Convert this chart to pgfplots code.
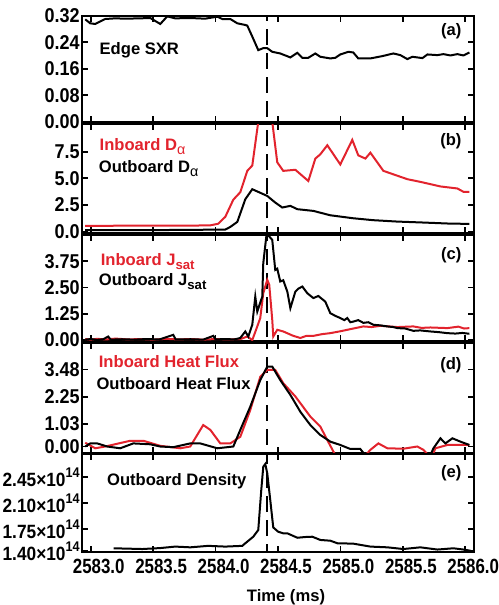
\documentclass[border=0pt]{standalone}
\usepackage{pgfplots}
\pgfplotsset{compat=1.18}
\usepackage{fontspec}
\setmainfont{Liberation Sans}
\newfontfamily\condA{Liberation Sans}[FakeStretch=0.9]
\newfontfamily\condB{Liberation Sans}[FakeStretch=0.82]
\definecolor{myred}{RGB}{226,35,45}
\pgfplotsset{
  panel/.style={
    scale only axis, width=196pt, anchor=north west,
    xmin=2582.93, xmax=2586.07,
    xtick={2583,2583.5,...,2586},
    xticklabels={},
    tick align=inside, major tick length=3pt, minor tick num=0,
    axis line style={line width=1pt},
    tick style={line width=0.9pt,black},
    every tick label/.append style={font=\condA\bfseries\fontsize{10}{11}\selectfont},
    yticklabel style={inner sep=1pt},
  },
  vline/.style={black, line width=1pt, dash pattern=on 8pt off 4pt, forget plot},
  blk/.style={black, line width=1pt, no marks},
  rd/.style={myred, line width=1pt, no marks},
}
\newcommand{\annfont}{\bfseries\fontsize{8.3}{9}\selectfont}
\newcommand{\subt}[1]{\raisebox{-0.4ex}{\fontsize{6.6}{7}\selectfont #1}}
\newcommand{\subg}[1]{\raisebox{-0.4ex}{\mdseries\fontsize{7.2}{7}\selectfont #1}}
\newcommand{\supr}[1]{\raisebox{0.9ex}{\fontsize{7}{7}\selectfont #1}}
\begin{document}
\begin{tikzpicture}
\useasboundingbox (0,0) rectangle (249pt,-302.5pt);
% ---------------- (a)
\begin{axis}[panel, at={(41pt,-7.85pt)}, height=53pt,
  ymin=0, ymax=0.32, ytick={0,0.08,0.16,0.24,0.32},
  yticklabels={0.00,0.08,0.16,0.24,0.32}]
\addplot[vline] coordinates {(2584.414,-1) (2584.414,1)};
\addplot[blk] coordinates {
(2582.956,0.309) (2582.996,0.297) (2583.036,0.295) (2583.116,0.310) (2583.196,0.312)
(2583.276,0.311) (2583.397,0.312) (2583.477,0.313) (2583.557,0.295) (2583.613,0.318)
(2583.677,0.312) (2583.797,0.313) (2583.917,0.311) (2584.014,0.317) (2584.054,0.310)
(2584.118,0.310) (2584.174,0.297) (2584.238,0.292) (2584.254,0.290) (2584.294,0.257)
(2584.342,0.216) (2584.382,0.222) (2584.414,0.222) (2584.454,0.211) (2584.518,0.206)
(2584.599,0.194) (2584.655,0.208) (2584.695,0.193) (2584.743,0.193) (2584.799,0.206)
(2584.839,0.196) (2584.919,0.191) (2584.960,0.193) (2584.999,0.203) (2585.063,0.211)
(2585.103,0.209) (2585.143,0.191) (2585.240,0.191) (2585.336,0.198) (2585.424,0.206)
(2585.480,0.201) (2585.536,0.189) (2585.576,0.196) (2585.657,0.192) (2585.697,0.203)
(2585.777,0.201) (2585.825,0.204) (2585.881,0.200) (2585.937,0.204) (2585.985,0.200)
(2586.033,0.209)};
\node[anchor=west, inner sep=0pt, font=\annfont] at (axis description cs:0.044,0.676) {Edge SXR};
\node[anchor=east, inner sep=0pt, font=\annfont] at (axis description cs:0.969,0.85) {(a)};
\node[rotate=90, inner sep=0pt, font=\annfont] at (axis description cs:-0.139,0.643) {arb. units};
\end{axis}
% ---------------- (b)
\begin{axis}[panel, at={(41pt,-62.15pt)}, height=54.35pt,
  ymin=-0.12, ymax=10.06, ytick={0,2.5,5,7.5},
  yticklabels={0.0,2.5,5.0,7.5}]
\addplot[vline] coordinates {(2584.414,-1) (2584.414,11)};
\addplot[rd] coordinates {
(2582.956,0.55) (2583.2,0.56) (2583.5,0.56) (2583.8,0.57) (2583.958,0.60) (2584.022,0.75)
(2584.078,1.4) (2584.142,3.0) (2584.198,3.7) (2584.254,5.7) (2584.294,6.2) (2584.342,10.3)
(2584.454,10.3) (2584.494,6.5) (2584.542,5.7) (2584.639,5.8) (2584.743,4.75) (2584.799,6.85)
(2584.839,7.25) (2584.895,8.1) (2584.999,6.3) (2585.095,8.6) (2585.143,7.15) (2585.200,6.85)
(2585.240,7.4) (2585.344,5.7) (2585.536,4.92) (2585.640,4.67) (2585.801,4.24) (2585.937,4.05)
(2585.985,3.74) (2586.033,3.74)};
\addplot[blk] coordinates {
(2582.956,0.15) (2583.5,0.15) (2584.078,0.2) (2584.118,0.45) (2584.174,0.92) (2584.238,3.04)
(2584.294,3.98) (2584.342,3.73) (2584.414,3.35) (2584.478,2.73) (2584.534,2.27) (2584.599,2.42)
(2584.655,2.11) (2584.783,1.95) (2584.919,1.54) (2585.103,1.26) (2585.264,1.08) (2585.456,0.95)
(2585.665,0.86) (2585.857,0.77) (2586.033,0.73)};
\node[anchor=west, inner sep=0pt, font=\annfont, text=myred] at (axis description cs:0.044,0.794) {Inboard D\subg{α}};
\node[anchor=west, inner sep=0pt, font=\annfont] at (axis description cs:0.042,0.595) {Outboard D\subg{α}};
\node[anchor=east, inner sep=0pt, font=\annfont] at (axis description cs:0.969,0.84) {(b)};
\node[rotate=90, inner sep=0pt, font=\annfont] at (axis description cs:-0.139,0.656) {arb. units};
\end{axis}
% ---------------- (c)
\begin{axis}[panel, at={(41pt,-117.65pt)}, height=52.7pt,
  ymin=-0.03, ymax=4.99, ytick={0,1.25,2.5,3.75},
  yticklabels={0.00,1.25,2.50,3.75}]
\addplot[vline] coordinates {(2584.414,-1) (2584.414,6)};
\addplot[rd] coordinates {
(2582.956,0.05) (2583.0,0.02) (2583.05,0.06) (2583.12,0.03) (2583.2,0.07) (2583.3,0.03)
(2583.4,0.05) (2583.5,0.02) (2583.6,0.06) (2583.7,0.03) (2583.8,0.05) (2583.9,0.02)
(2584.0,0.05) (2584.1,0.03) (2584.2,0.05) (2584.254,0.17) (2584.294,0.0) (2584.334,0.65)
(2584.358,1.05) (2584.382,2.23) (2584.414,2.87) (2584.430,2.63) (2584.454,0.96) (2584.462,0.17)
(2584.494,0.49) (2584.542,0.41) (2584.623,0.2) (2584.679,0.1) (2584.727,0.2) (2584.783,0.2)
(2584.85,0.28) (2584.919,0.33) (2585.0,0.42) (2585.079,0.52) (2585.184,0.65) (2585.25,0.62)
(2585.320,0.68) (2585.456,0.62) (2585.584,0.65) (2585.65,0.58) (2585.721,0.6) (2585.857,0.57)
(2585.945,0.64) (2585.99,0.55) (2586.033,0.57)};
\addplot[blk] coordinates {
(2582.956,0.02) (2583.0,0.05) (2583.05,0.01) (2583.1,0.04) (2583.140,0.17) (2583.16,0.02)
(2583.25,0.04) (2583.35,0.02) (2583.45,0.05) (2583.55,0.03) (2583.661,0.25) (2583.68,0.03)
(2583.8,0.04) (2583.9,0.02) (2583.982,0.2) (2584.0,0.03) (2584.08,0.05) (2584.15,0.03)
(2584.198,0.1) (2584.238,0.41) (2584.262,0.17) (2584.294,0.73) (2584.318,2.07) (2584.334,1.36)
(2584.374,2.07) (2584.382,3.66) (2584.406,4.92) (2584.422,4.99) (2584.454,4.77) (2584.478,3.34)
(2584.494,3.40) (2584.518,2.79) (2584.542,2.85) (2584.575,2.3) (2584.599,1.52) (2584.639,2.31)
(2584.663,2.45) (2584.695,2.55) (2584.735,2.23) (2584.783,2.0) (2584.823,2.1) (2584.879,1.83)
(2584.919,1.28) (2584.96,1.15) (2584.999,1.05) (2585.031,0.95) (2585.055,1.05) (2585.079,0.85)
(2585.103,0.88) (2585.143,0.95) (2585.184,0.82) (2585.224,0.85) (2585.264,0.73) (2585.320,0.70)
(2585.376,0.65) (2585.424,0.62) (2585.456,0.57) (2585.52,0.55) (2585.584,0.44) (2585.64,0.46)
(2585.721,0.41) (2585.785,0.38) (2585.857,0.33) (2585.921,0.31) (2585.977,0.34) (2586.033,0.30)};
\node[anchor=west, inner sep=0pt, font=\annfont, text=myred] at (axis description cs:0.047,0.75) {Inboard J\subt{sat}};
\node[anchor=west, inner sep=0pt, font=\annfont] at (axis description cs:0.042,0.56) {Outboard J\subt{sat}};
\node[anchor=east, inner sep=0pt, font=\annfont] at (axis description cs:0.969,0.81) {(c)};
\node[rotate=90, inner sep=0pt, font=\annfont] at (axis description cs:-0.139,0.623) {arb. units};
\end{axis}
% ---------------- (d)
\begin{axis}[panel, at={(41pt,-171.65pt)}, height=54.7pt,
  ymin=-0.28, ymax=4.66, ytick={0,1.03,2.25,3.48},
  yticklabels={0.00,1.03,2.25,3.48}]
\addplot[vline] coordinates {(2584.414,-1) (2584.414,6)};
\addplot[rd] coordinates {
(2582.956,0.17) (2583.036,-0.08) (2583.116,0.0) (2583.317,0.26) (2583.421,0.26) (2583.557,0.03)
(2583.717,-0.08) (2583.797,0.0) (2583.901,0.97) (2583.958,0.75) (2584.038,0.14) (2584.118,0.14)
(2584.198,0.44) (2584.278,1.65) (2584.358,3.15) (2584.414,3.46) (2584.478,3.46) (2584.542,2.86)
(2584.639,2.26) (2584.759,1.35) (2584.839,0.9) (2584.895,0.29) (2584.96,-0.4) (2585.2,-0.4)
(2585.240,-0.15) (2585.304,0.14) (2585.376,-0.08) (2585.504,-0.1) (2585.616,0.0) (2585.665,-0.15)
(2585.705,-0.4) (2585.737,-0.4) (2585.761,-0.08) (2585.857,0.07) (2586.033,0.07)};
\addplot[blk] coordinates {
(2582.956,0.0) (2582.996,0.14) (2583.052,0.14) (2583.132,0.0) (2583.236,-0.08) (2583.341,0.14)
(2583.477,0.10) (2583.557,0.0) (2583.661,-0.03) (2583.797,0.14) (2583.877,0.14) (2584.014,-0.08)
(2584.142,0.0) (2584.198,0.75) (2584.278,1.8) (2584.358,3.0) (2584.414,3.61) (2584.454,3.61)
(2584.518,3.0) (2584.599,2.33) (2584.679,1.57) (2584.759,0.97) (2584.839,0.52) (2584.919,0.22)
(2584.999,0.07) (2585.079,-0.11) (2585.159,-0.11) (2585.2,-0.4) (2585.5,-0.5) (2585.72,-0.4)
(2585.745,-0.08) (2585.801,0.37) (2585.841,0.14) (2585.897,0.37) (2585.961,0.22) (2586.033,0.07)};
\node[anchor=west, inner sep=0pt, font=\annfont, text=myred] at (axis description cs:0.042,0.83) {Inboard Heat Flux};
\node[anchor=west, inner sep=0pt, font=\annfont] at (axis description cs:0.036,0.634) {Outboard Heat Flux};
\node[anchor=east, inner sep=0pt, font=\annfont] at (axis description cs:0.969,0.80) {(d)};
\node[rotate=90, inner sep=0pt, font=\annfont] at (axis description cs:-0.139,0.619) {arb. units};
\end{axis}
% ---------------- (e)
\begin{axis}[panel, at={(41pt,-227pt)}, height=49.15pt,
  ymin=1.4325, ymax=2.766, ytick={1.45,1.75,2.10,2.45},
  yticklabels={1.40×10\supr{14},1.75×10\supr{14},2.10×10\supr{14},2.45×10\supr{14}},
  yticklabel style={font=\condA\bfseries\fontsize{9.6}{10}\selectfont},
  xticklabels={2583.0,2583.5,2584.0,2584.5,2585.0,2585.5,2586.0},
  xticklabel style={xshift=4pt, font=\condB\bfseries\fontsize{10.3}{11}\selectfont},
  xlabel={Time (ms)},
  xlabel style={xshift=4pt, font=\annfont, yshift=-1pt}]
\addplot[vline] coordinates {(2584.414,1) (2584.414,3)};
\addplot[blk] coordinates {
(2583.183,1.487) (2583.413,1.477) (2583.557,1.49) (2583.677,1.51) (2583.797,1.50) (2583.941,1.52)
(2584.078,1.51) (2584.214,1.52) (2584.238,1.555) (2584.302,1.644) (2584.342,1.735) (2584.366,2.278)
(2584.382,2.594) (2584.398,2.63) (2584.414,2.504) (2584.438,2.142) (2584.462,1.77) (2584.501,1.712)
(2584.542,1.69) (2584.575,1.69) (2584.655,1.63) (2584.719,1.64) (2584.775,1.644) (2584.839,1.6)
(2584.919,1.59) (2584.976,1.555) (2585.103,1.55) (2585.240,1.51) (2585.376,1.50) (2585.504,1.477)
(2585.640,1.50) (2585.777,1.47) (2585.905,1.487) (2585.985,1.47) (2586.041,1.454)};
\node[anchor=west, inner sep=0pt, font=\annfont] at (axis description cs:0.063,0.72) {Outboard Density};
\node[anchor=east, inner sep=0pt, font=\annfont] at (axis description cs:0.969,0.80) {(e)};
\end{axis}
\end{tikzpicture}
\end{document}
